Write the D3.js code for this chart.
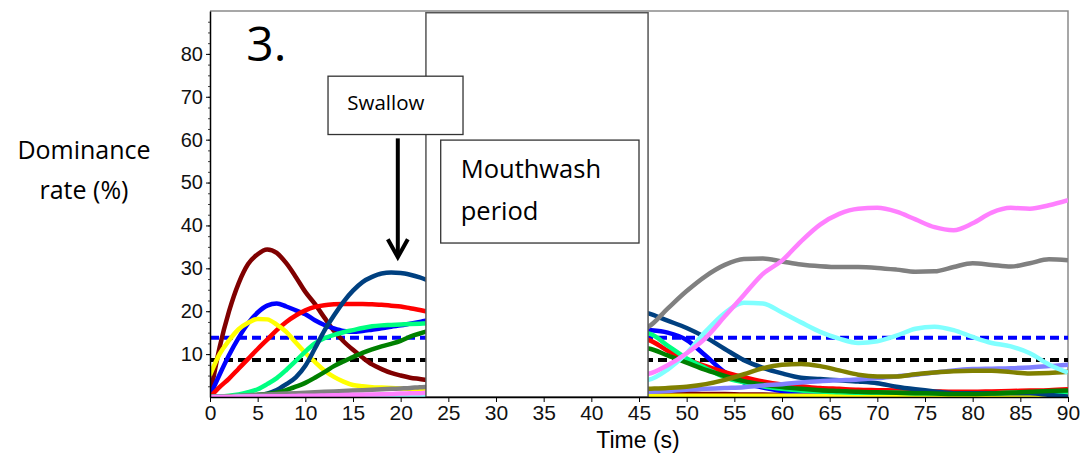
<!DOCTYPE html>
<html>
<head>
<meta charset="utf-8">
<script src="https://cdn.jsdelivr.net/npm/d3@7"></script>
<style>
  body { margin: 0; background: #fff; }
  svg { display: block; }
</style>
</head>
<body>
<div id="chart"></div>
<script>
// time grid (s) for the two visible segments
const tLeft = [0,1,2,3,4,5,6,7,8,9,10,11,12,13,14,15,16,17,18,19,20,21,22,23];
const tRight = [46,48,50,52,54,56,58,60,62,64,66,68,70,72,74,76,78,80,82,84,86,88,90];

const categories = ["maroon","blue","red","yellow","springgreen","navy","green","gray","lilac","olive","cyan","pink"];
const colors = ["#800000","#0000ff","#ff0000","#ffff00","#00ff80","#004080","#008000","#808080","#8080ff","#808000","#80ffff","#ff80ff"];

const maroonL = [0.3,11.5,20,26.5,31,33.3,34.4,33.6,31.2,28,24.5,21.7,18.5,15.4,13,11,9.2,7.6,6.5,5.6,5,4.5,4.2,3.9];
const maroonR = [0.9,0.8,0.8,0.7,0.7,0.6,0.6,0.5,0.5,0.5,0.5,0.5,0.5,0.5,0.5,0.5,0.5,0.5,0.5,0.5,0.5,0.5,0.5];
const blueL = [0.3,5.2,9.8,13.8,17.2,19.7,21.3,21.8,21.1,20.2,19.3,17.9,16.8,16,15.4,15.2,15.4,15.7,16,16.4,16.7,17.1,17.5,17.9];
const blueR = [15.6,15,13.3,9.6,5.8,3.4,2.2,1.4,0.8,0.5,0.4,0.3,0.3,0.3,0.3,0.3,0.3,0.3,0.3,0.3,0.3,0.2,0.2];
const redL = [0,2.3,4.3,6.6,8.9,11.2,13.4,15.6,17.5,19,20.2,21,21.4,21.6,21.7,21.7,21.7,21.6,21.5,21.3,21.1,20.7,20.3,19.8];
const redR = [13.3,10.8,8.8,7.2,5.8,4.6,3.6,2.9,2.5,2.1,1.9,1.7,1.6,1.5,1.4,1.3,1.2,1.2,1.3,1.4,1.5,1.6,1.8];
const yellowL = [5.1,10,13.2,15.8,17.3,18.2,18.1,16.9,15.2,12.7,10.3,8.2,6.2,4.7,3.6,2.8,2.5,2.3,2.2,2.1,2,1.9,1.8,1.8];
const yellowR = [0.3,0.3,0.3,0.3,0.3,0.3,0.3,0.3,0.3,0.3,0.3,0.3,0.3,0.3,0.3,0.3,0.3,0.3,0.3,0.3,0.3,0.3,0.3];
const springL = [0,0.1,0.3,0.6,1.1,1.8,3,4.4,6.3,8.4,10.6,12.5,13.7,14.5,15.1,15.6,16.1,16.5,16.7,16.8,16.9,17,17.1,17.2];
const springR = [14.8,12,9,6.7,4.6,3.4,2.5,1.9,1.5,1.3,1.1,1,1,1,0.9,0.9,0.9,0.9,0.9,1,1,1.1,1.2];
const navyL = [0,0,0.05,0.1,0.2,0.4,0.8,1.6,3,4.6,7.3,11.3,15.5,19,22.2,24.8,26.8,28,28.8,29,28.9,28.5,27.9,27.1];
const navyR = [19.5,17.8,16.1,13.9,11.2,8.6,6.8,5.5,4.5,4.2,3.9,3.6,3.2,2.4,1.8,1.3,0.9,0.9,0.9,0.9,0.9,0.5,0.1];
const greenL = [0,0.05,0.1,0.2,0.3,0.5,0.7,1,1.6,2.4,3.3,4.5,5.8,7.2,8.3,9.3,10.3,11.1,11.8,12.4,13.1,14.1,14.8,15.4];
const greenR = [11.3,9.7,8,6.3,4.9,3.7,2.9,2.3,1.9,1.6,1.4,1.2,1.1,1,0.9,0.8,0.7,0.7,0.8,1,1.2,1.4,1.5];
const grayL = [0,0.1,0.2,0.3,0.4,0.5,0.6,0.7,0.8,0.9,1,1.1,1.2,1.3,1.4,1.5,1.6,1.7,1.8,1.9,2,2.1,2.3,2.4];
const grayR = [16.4,20.6,24.7,28.2,30.8,32.2,32.3,31.6,30.9,30.5,30.3,30.3,30.1,29.7,29.2,29.3,30.3,31.2,30.8,30.4,31.2,32.1,31.9];
const lilacL = [0,0,0.1,0.1,0.1,0.1,0.1,0.2,0.2,0.2,0.2,0.2,0.2,0.2,0.3,0.3,0.3,0.3,0.3,0.3,0.3,0.3,0.3,0.3];
const lilacR = [1.2,1.4,1.7,1.9,2.1,2.3,2.7,3,3.4,3.7,3.9,4.1,4.4,4.8,5.2,5.7,6.2,6.5,6.6,6.7,6.9,7.2,7.5];
const oliveL = [0,0,0.1,0.1,0.1,0.1,0.1,0.1,0.2,0.2,0.2,0.2,0.2,0.2,0.2,0.2,0.2,0.2,0.2,0.2,0.2,0.2,0.2,0.2];
const oliveR = [1.9,2.1,2.4,3,4,5.3,6.7,7.5,7.7,7.2,6.2,5.2,4.8,4.8,5.3,5.7,6,6.1,6.1,5.8,5.5,5.6,5.9];
const cyanL = [0,0,0,0.1,0.1,0.1,0.1,0.1,0.1,0.1,0.1,0.1,0.1,0.1,0.1,0.1,0.1,0.1,0.1,0.1,0.1,0.1,0.1,0.1];
const cyanR = [4,6.4,10.2,15.3,19.6,22,21.8,19.7,17.4,15.2,13.6,12.6,13,14.3,15.9,16.4,15.6,14,12.6,11.8,10.2,7.6,5.7];
const pinkL = [0,0,0,0.05,0.1,0.1,0.15,0.2,0.2,0.25,0.3,0.3,0.35,0.4,0.45,0.5,0.55,0.6,0.65,0.7,0.8,0.85,0.9,1];
const pinkR = [5.4,7.4,10.2,13.8,18.8,23.8,28.7,31.8,36.3,40.2,42.7,43.9,44.1,43.2,41.4,39.6,38.9,40.5,43,44.1,43.9,44.7,45.9];

const leftValues = [maroonL, blueL, redL, yellowL, springL, navyL, greenL, grayL, lilacL, oliveL, cyanL, pinkL];
const rightValues = [maroonR, blueR, redR, yellowR, springR, navyR, greenR, grayR, lilacR, oliveR, cyanR, pinkR];

// horizontal reference levels (dashed)
const refLevels = [13.8, 8.6];
const refColors = ["#0000ff", "#000000"];

const yTicks = [10,20,30,40,50,60,70,80];
const xTicks = [0,5,10,15,20,25,30,35,40,45,50,55,60,65,70,75,80,85,90];

// mouthwash period (covered) and swallow moment
const mouthwash = [22.65, 45.95];
const swallowAt = 19.7;

const W = 1082, H = 460;
const margin = {top: 11, right: 14, bottom: 63, left: 210};
const width = W - margin.left - margin.right,
      height = H - margin.top - margin.bottom;

const svg = d3.select("#chart").append("svg")
  .attr("width", W).attr("height", H);

const g = svg.append("g")
  .attr("transform", `translate(${margin.left},${margin.top})`);

const x = d3.scaleLinear().domain([0, 90]).range([0, width]);
const y = d3.scaleLinear().domain([0, 90]).range([height, 0]);

g.append("clipPath").attr("id", "plot")
  .append("rect").attr("width", width).attr("height", height);

// frame (top/right in gray)
g.append("path")
  .attr("d", `M0,0H${width}V${height}`)
  .attr("fill", "none").attr("stroke", "#8a8a8a").attr("stroke-width", 1.5);

const plot = g.append("g").attr("clip-path", "url(#plot)");

// dashed reference lines
plot.selectAll(".ref")
  .data(refLevels)
  .enter().append("line")
  .attr("x1", 0).attr("x2", width)
  .attr("y1", d => y(d)).attr("y2", d => y(d))
  .attr("stroke", (d, i) => refColors[i])
  .attr("stroke-width", 4)
  .attr("stroke-dasharray", "9,5");

const line = d3.line()
  .x(d => x(d[0]))
  .y(d => y(d[1]))
  .curve(d3.curveMonotoneX);

const series = categories.map((c, i) => ({
  name: c,
  color: colors[i],
  pts: tLeft.map((t, j) => [t, leftValues[i][j]])
        .concat(tRight.map((t, j) => [t, rightValues[i][j]]))
}));

plot.selectAll(".series")
  .data(series)
  .enter().append("path")
  .attr("class", "series")
  .attr("d", d => line(d.pts))
  .attr("fill", "none")
  .attr("stroke", d => d.color)
  .attr("stroke-width", 4.5)
  .attr("stroke-linejoin", "round");

// white box over the mouthwash period
g.append("rect")
  .attr("x", x(mouthwash[0]))
  .attr("y", y(89.6))
  .attr("width", x(mouthwash[1]) - x(mouthwash[0]))
  .attr("height", y(0) - y(89.6))
  .attr("fill", "#fff")
  .attr("stroke", "#555").attr("stroke-width", 1.5);

g.append("rect")
  .attr("x", x(24.2)).attr("y", y(59.9))
  .attr("width", x(45.0) - x(24.2))
  .attr("height", y(35.9) - y(59.9))
  .attr("fill", "#fff")
  .attr("stroke", "#333").attr("stroke-width", 1.3);

g.append("text")
  .attr("x", x(26.3)).attr("y", y(51))
  .style("font-family", "'Open Sans', sans-serif")
  .style("font-size", "25.5px")
  .text("Mouthwash");
g.append("text")
  .attr("x", x(26.3)).attr("y", y(41.3))
  .style("font-family", "'Open Sans', sans-serif")
  .style("font-size", "25.5px")
  .text("period");

// swallow label + arrow
g.append("rect")
  .attr("x", x(12.38)).attr("y", y(74.8))
  .attr("width", x(26.54) - x(12.38))
  .attr("height", y(61.2) - y(74.8))
  .attr("fill", "#fff")
  .attr("stroke", "#333").attr("stroke-width", 1.3);

g.append("text")
  .attr("x", x(14.4)).attr("y", y(67))
  .style("font-family", "'Open Sans', sans-serif")
  .style("font-size", "20.5px")
  .text("Swallow");

g.append("line")
  .attr("x1", x(swallowAt)).attr("x2", x(swallowAt))
  .attr("y1", y(60.3)).attr("y2", y(32.8))
  .attr("stroke", "#000").attr("stroke-width", 4);

g.append("path")
  .attr("d", `M${x(swallowAt) - 10},${y(36.8)}L${x(swallowAt)},${y(32.6)}L${x(swallowAt) + 10},${y(36.8)}`)
  .attr("fill", "none").attr("stroke", "#000").attr("stroke-width", 4)
  .attr("stroke-linejoin", "miter");

// panel number
g.append("text")
  .attr("x", x(3.8)).attr("y", y(78.4))
  .style("font-family", "'Open Sans', sans-serif")
  .style("font-size", "48px")
  .text("3.");

// axes
const tickFont = "'Liberation Sans', Arial, sans-serif";

const yMinor = g.append("g")
  .call(d3.axisLeft(y).tickValues(d3.range(2.5, 90, 2.5)).tickSize(2).tickFormat(""));
yMinor.select(".domain").remove();
yMinor.selectAll("line").attr("stroke", "#444");

const yAxis = g.append("g")
  .call(d3.axisLeft(y).tickValues(yTicks).tickSize(4).tickPadding(3).tickSizeOuter(0));
yAxis.select(".domain").attr("stroke-width", 1.5);
yAxis.selectAll("text")
  .style("font-family", tickFont).style("font-size", "20px").attr("fill", "#111");

const xAxis = g.append("g")
  .attr("transform", `translate(0,${height})`)
  .call(d3.axisBottom(x).tickValues(xTicks).tickSize(5).tickPadding(3).tickSizeOuter(0));
xAxis.select(".domain").attr("stroke-width", 1.5);
xAxis.selectAll("text")
  .style("font-family", tickFont).style("font-size", "21px").attr("fill", "#111");

// axis titles
svg.append("text")
  .attr("x", 638)
  .attr("y", 448)
  .attr("text-anchor", "middle")
  .style("font-family", tickFont)
  .style("font-size", "23px")
  .text("Time (s)");

svg.append("text")
  .attr("x", 84).attr("y", 159)
  .attr("text-anchor", "middle")
  .style("font-family", "'Open Sans', sans-serif")
  .style("font-size", "25px")
  .text("Dominance");
svg.append("text")
  .attr("x", 84).attr("y", 199)
  .attr("text-anchor", "middle")
  .style("font-family", "'Open Sans', sans-serif")
  .style("font-size", "25px")
  .text("rate (%)");
</script>
</body>
</html>
